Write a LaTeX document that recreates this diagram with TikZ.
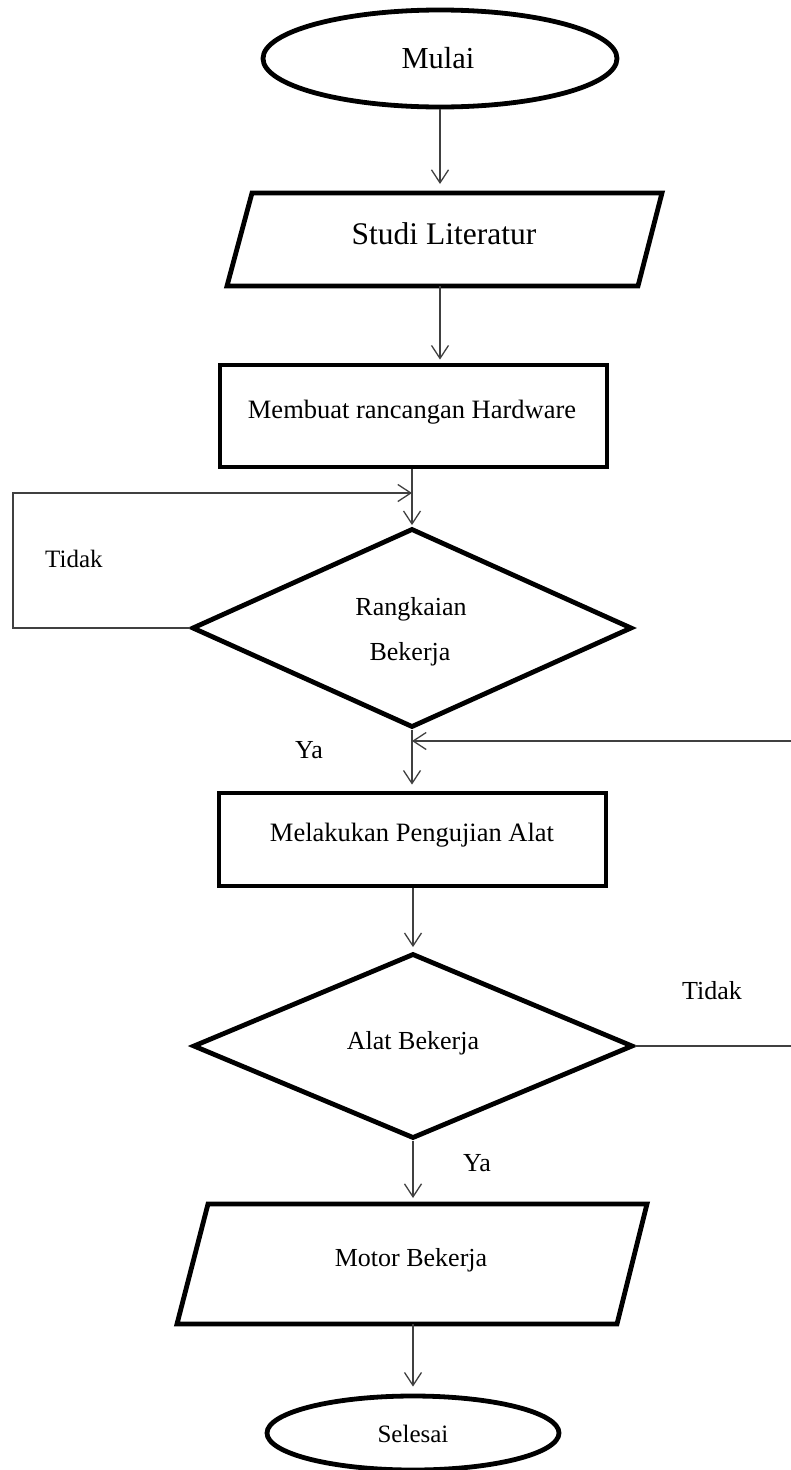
\documentclass[tikz,border=0pt]{standalone}
\usepackage{fontspec}
\setmainfont{Liberation Serif}
\usetikzlibrary{shapes.geometric,arrows.meta}
\begin{document}
\begin{tikzpicture}[x=1pt,y=-1pt,
  shapeline/.style={draw=black, line width=4.8pt, inner sep=0pt},
  boxnode/.style={shapeline, rectangle},
  ovalnode/.style={shapeline, ellipse},
  decnode/.style={shapeline, diamond},
  slantbox/.style={line width=4.8pt, line join=miter},
  conn/.style={draw=black!75, line width=1.3pt},
  arr/.style={conn, -{Straight Barb[length=13pt,width=17pt]}},
  txt/.style={inner sep=0pt, anchor=base, font=\fontsize{26}{30}\selectfont},
  lbl/.style={inner sep=0pt, anchor=base west, font=\fontsize{26}{30}\selectfont},
]
\useasboundingbox (0,0) rectangle (790,1470);

% shapes
\node[ovalnode, minimum width=354pt, minimum height=97pt] (mulai) at (440,58.5) {};
\draw[slantbox] (252,193) -- (662,193) -- (638,286) -- (227,286) -- cycle;
\coordinate (studiT) at (440,193);
\coordinate (studiB) at (440,286);
\node[boxnode, minimum width=387pt, minimum height=102pt] (membuat) at (413.5,416) {};
\node[decnode, minimum width=440pt, minimum height=199pt] (d1) at (412,628) {};
\node[boxnode, minimum width=387pt, minimum height=93pt] (uji) at (412.5,839.5) {};
\node[decnode, minimum width=440pt, minimum height=185pt] (d2) at (413,1046) {};
\draw[slantbox] (208,1204) -- (647,1204) -- (617,1324) -- (177,1324) -- cycle;
\coordinate (motorT) at (413,1204);
\coordinate (motorB) at (413,1324);
\node[ovalnode, minimum width=292pt, minimum height=74pt] (selesai) at (413,1433) {};

% texts
\node[txt, font=\fontsize{30.5}{36}\selectfont] (tMulai) at (438,68) {Mulai};
\node[txt, font=\fontsize{31.5}{36}\selectfont] (tStudi) at (444,244) {Studi Literatur};
\node[txt, font=\fontsize{26.5}{30}\selectfont] (tMembuat) at (412,418) {Membuat rancangan Hardware};
\node[txt] (tRang) at (411,615) {Rangkaian};
\node[txt] (tBek) at (410,660) {Bekerja};
\node[txt, font=\fontsize{26.5}{30}\selectfont] (tUji) at (412,841) {Melakukan Pengujian Alat};
\node[txt] (tAlat) at (413,1049) {Alat Bekerja};
\node[txt] (tMotor) at (411,1266) {Motor Bekerja};
\node[txt, font=\fontsize{25}{30}\selectfont] (tSelesai) at (413,1442) {Selesai};
\node[lbl, font=\fontsize{25}{30}\selectfont] (tTidak1) at (45,567) {Tidak};
\node[lbl] (tYa1) at (295,758) {Ya};
\node[lbl] (tTidak2) at (682,999) {Tidak};
\node[lbl] (tYa2) at (463,1171) {Ya};

% connectors
\coordinate (loopTL) at (13,493);
\coordinate (loopEnd) at (412,493);
\coordinate (rA) at (792,741);
\coordinate (rB) at (792,1047);

\draw[arr, shorten >=9pt] (mulai.south) -- (studiT);
\draw[arr, shorten >=3pt] (studiB) -- (studiB |- membuat.north);
\draw[arr, shorten >=1pt] (membuat.south -| d1.north) -- (d1.north);
\draw[arr] (d1.west) -| (loopTL) -- (loopEnd);
\draw[arr, shorten >=6pt] (d1.south) -- (uji.north -| d1.south);
\draw[arr] (rA) -- (rA -| d1.south);
\draw[arr, shorten >=4pt] (uji.south -| d2.north) -- (d2.north);
\draw[conn] (d2.east) -- (d2.east -| rB);
\draw[arr, shorten >=6pt] (d2.south) -- (motorT);
\draw[arr, shorten >=7pt] (motorB) -- (selesai.north);
\end{tikzpicture}
\end{document}
